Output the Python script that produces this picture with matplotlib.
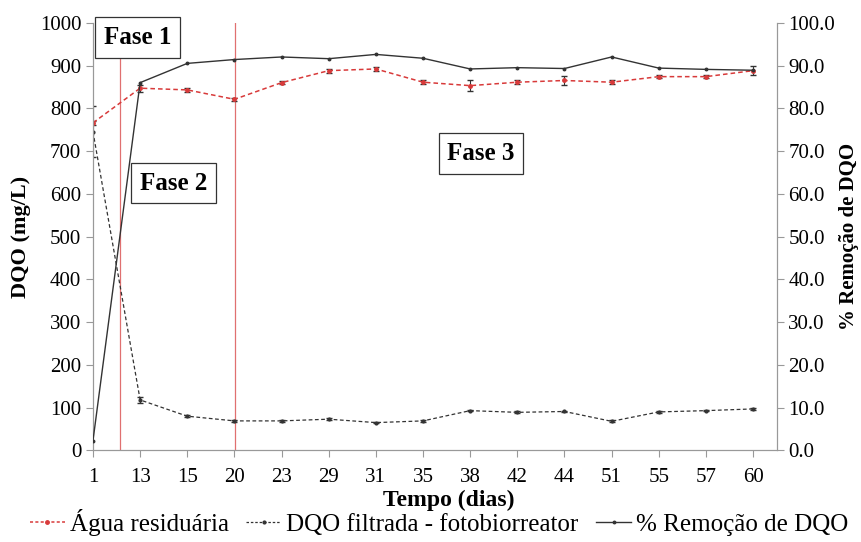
import matplotlib.pyplot as plt
from matplotlib.lines import Line2D

dias = ['1', '13', '15', '20', '23', '29', '31', '35', '38', '42', '44', '51', '55', '57', '60']
agua_residuaria = [766, 847, 843, 821, 860, 888, 892, 861, 853, 861, 865, 861, 874, 874, 888]
agua_err = [4, 8, 4, 4, 4, 5, 4, 4, 12, 4, 10, 4, 4, 4, 10]
dqo_filtrada = [745, 118, 80, 69, 69, 73, 65, 69, 93, 89, 91, 68, 90, 93, 97]
dqo_err = [60, 8, 2, 2, 2, 2, 2, 2, 2, 2, 2, 2, 2, 2, 2]
remocao = [2.3, 86.0, 90.5, 91.4, 92.0, 91.6, 92.6, 91.7, 89.2, 89.5, 89.3, 92.0, 89.4, 89.1, 88.9]

fases = [('Fase 1', 0.95, 965), ('Fase 2', 1.71, 625), ('Fase 3', 8.23, 694)]
limites_fase = [0.57, 3.02]

plt.rcParams['font.family'] = ['Liberation Serif', 'DejaVu Serif']

fig = plt.figure(figsize=(8.61, 5.42), dpi=100)
ax = fig.add_axes([0.108, 0.169, 0.794, 0.789])
x = list(range(len(dias)))

for xv in limites_fase:
    ax.axvline(xv, color='#e07070', lw=0.9, zorder=1)

ax.errorbar(x, agua_residuaria, yerr=agua_err, color='#d83a3a', ls=(0, (3, 2)), lw=1.1,
            marker='o', ms=2.5, capsize=2.5, elinewidth=0.8, ecolor='#333333', zorder=3)
ax.errorbar(x, dqo_filtrada, yerr=dqo_err, color='#333333', ls=(0, (3, 2)), lw=0.9,
            marker='o', ms=2, capsize=2.5, elinewidth=0.8, zorder=3)

ax2 = ax.twinx()
ax2.plot(x, remocao, color='#333333', lw=1.0, marker='o', ms=1.8, zorder=3)

ax.set_xlim(0, 14.5)
ax.set_ylim(0, 1000)
ax2.set_ylim(0, 100)
ax.set_xticks(x)
ax.set_xticklabels(dias)
ax.set_yticks(range(0, 1001, 100))
ax2.set_yticks(range(0, 101, 10))
ax2.set_yticklabels([f'{v:.1f}' for v in range(0, 101, 10)])

for a in (ax, ax2):
    a.spines['top'].set_visible(False)
    for s in a.spines.values():
        s.set_color('#999999')
    a.tick_params(colors='#999999', labelcolor='black', labelsize=15, length=5)
ax.tick_params(axis='x', pad=8)

ax.set_ylabel('DQO (mg/L)', fontsize=16, fontweight='bold', labelpad=6)
ax2.set_ylabel('% Remoção de DQO', fontsize=15, fontweight='bold', labelpad=3)
ax.set_xlabel('Tempo (dias)', fontsize=17, fontweight='bold', labelpad=0)
ax.xaxis.set_label_coords(0.52, -0.092)

for texto, xv, yv in fases:
    ax.text(xv, yv, texto, fontsize=18, fontweight='bold', va='center', ha='center', zorder=5,
            bbox=dict(boxstyle='square,pad=0.35', fc='white', ec='#333333', lw=0.9))

handles = [
    Line2D([], [], color='#d83a3a', ls=(0, (2, 1.5)), lw=1.1, marker='o', ms=2.5),
    Line2D([], [], color='#333333', ls=(0, (2, 1.5)), lw=0.9, marker='o', ms=2),
    Line2D([], [], color='#333333', lw=1.0, marker='o', ms=1.8),
]
fig.legend(handles, ['Água residuária', 'DQO filtrada - fotobiorreator', '% Remoção de DQO'],
           loc='lower center', bbox_to_anchor=(0.51, -0.03), ncol=3, frameon=False,
           fontsize=18, handlelength=1.4, handletextpad=0.2, columnspacing=0.7)

fig.savefig('out.png', dpi=100)
